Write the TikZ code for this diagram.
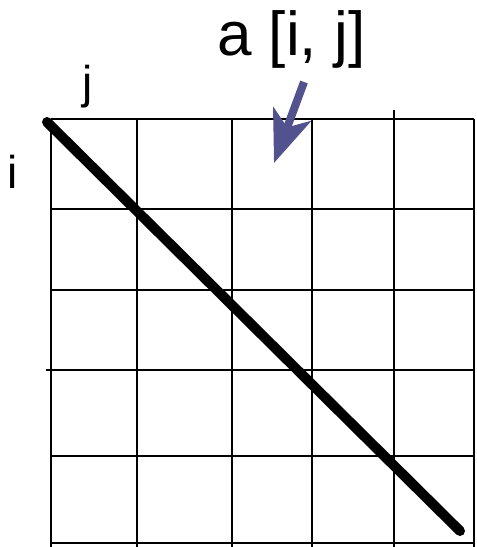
\documentclass[tikz,border=0pt]{standalone}
\usepackage{fontspec}
\setmainfont{Liberation Sans}
\usepackage{tikz}
\usetikzlibrary{arrows.meta}
\definecolor{ptrblue}{RGB}{82,82,142}

\begin{document}
\begin{tikzpicture}[x=1pt,y=-1pt,gridline/.style={black,line width=2.8pt}]
  \useasboundingbox (0,0) rectangle (477,547);
  % grid
  \foreach \gx in {51,137,232,312,474}
    \draw[gridline] (\gx,119) -- (\gx,547);
  \draw[gridline] (394,110) -- (394,547);
  \foreach \gy in {119,209,290,456,543}
    \draw[gridline] (51,\gy) -- (474,\gy);
  \draw[gridline] (46,370) -- (474,370);
  % diagonal
  \coordinate (dtop) at (47,122);
  \coordinate (dbot) at (460,531);
  \draw[black,line width=10pt,line cap=round] (dtop) -- (dbot);
  % labels
  \node[anchor=base west,inner sep=0pt,font=\fontsize{62}{62}\selectfont] (aij) at (217,55) {a [i, j]};
  \node[anchor=base west,inner sep=0pt,font=\fontsize{46}{46}\selectfont] (jlab) at (82,98) {j};
  \node[anchor=base west,inner sep=0pt,font=\fontsize{46}{46}\selectfont] (ilab) at (7,188) {i};
  % pointer
  \coordinate (ptail) at (304,82);
  \coordinate (ptip) at (274,163);
  \draw[ptrblue,line width=8pt,-{Stealth[length=52pt,width=40pt,inset=14pt]}] (ptail) -- (ptip);
\end{tikzpicture}
\end{document}
